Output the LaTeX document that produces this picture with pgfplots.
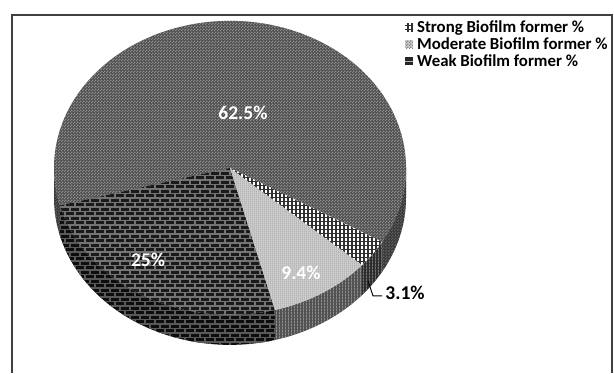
\documentclass[border=0pt]{standalone}
\usepackage{pgfplots}
\pgfplotsset{compat=1.18}
\usepackage{pgfplotstable}
\usepackage{fontspec}
\setmainfont{Carlito}
\usetikzlibrary{patterns}

% shares in percent, counter-clockwise from the start angle
\pgfplotstableread{
share
25.0
9.4
3.1
62.5
}\biofilm

% ---- textures ----
\pgfdeclarepatternformonly{brickwall}{\pgfqpoint{-1pt}{-1pt}}{\pgfqpoint{11pt}{10pt}}{\pgfqpoint{10pt}{9pt}}{%
  \pgfsetlinewidth{1.2pt}%
  \pgfpathmoveto{\pgfqpoint{-1pt}{0pt}}\pgfpathlineto{\pgfqpoint{11pt}{0pt}}%
  \pgfpathmoveto{\pgfqpoint{-1pt}{4.5pt}}\pgfpathlineto{\pgfqpoint{11pt}{4.5pt}}%
  \pgfpathmoveto{\pgfqpoint{0pt}{0pt}}\pgfpathlineto{\pgfqpoint{0pt}{4.5pt}}%
  \pgfpathmoveto{\pgfqpoint{5pt}{4.5pt}}\pgfpathlineto{\pgfqpoint{5pt}{9pt}}%
  \pgfusepath{stroke}}
\pgfdeclarepatternformonly{finechecker}{\pgfqpoint{0pt}{0pt}}{\pgfqpoint{2.6pt}{2.6pt}}{\pgfqpoint{2.6pt}{2.6pt}}{%
  \pgfpathrectangle{\pgfqpoint{0pt}{0pt}}{\pgfqpoint{1.3pt}{1.3pt}}%
  \pgfpathrectangle{\pgfqpoint{1.3pt}{1.3pt}}{\pgfqpoint{1.3pt}{1.3pt}}%
  \pgfusepath{fill}}
\pgfdeclarepatternformonly{opengrid}{\pgfqpoint{-1pt}{-1pt}}{\pgfqpoint{5pt}{5pt}}{\pgfqpoint{4pt}{4pt}}{%
  \pgfsetlinewidth{1.3pt}%
  \pgfpathmoveto{\pgfqpoint{-1pt}{0pt}}\pgfpathlineto{\pgfqpoint{5pt}{0pt}}%
  \pgfpathmoveto{\pgfqpoint{0pt}{-1pt}}\pgfpathlineto{\pgfqpoint{0pt}{5pt}}%
  \pgfusepath{stroke}}
\pgfdeclarepatternformonly{finevlines}{\pgfqpoint{0pt}{0pt}}{\pgfqpoint{2pt}{2pt}}{\pgfqpoint{2pt}{2pt}}{%
  \pgfpathrectangle{\pgfqpoint{0pt}{0pt}}{\pgfqpoint{0.8pt}{2pt}}%
  \pgfusepath{fill}}
\pgfdeclarepatternformonly{sidevlines}{\pgfqpoint{0pt}{0pt}}{\pgfqpoint{3pt}{3pt}}{\pgfqpoint{3pt}{3pt}}{%
  \pgfpathrectangle{\pgfqpoint{0pt}{0pt}}{\pgfqpoint{1.2pt}{3pt}}%
  \pgfusepath{fill}}

% ---- greys ----
\definecolor{strongbg}{HTML}{505050}
\definecolor{strongfg}{HTML}{8E8E8E}
\definecolor{weakbg}{HTML}{1A1A1A}
\definecolor{weakfg}{HTML}{747474}
\definecolor{modbg}{HTML}{CBCBCB}
\definecolor{modfg}{HTML}{A9A9A9}
\definecolor{gridfg}{HTML}{303030}
\definecolor{framecol}{HTML}{404040}

\tikzset{
  topA/.style={preaction={fill=weakbg}, pattern=brickwall, pattern color=weakfg},
  topB/.style={preaction={fill=modbg}, pattern=finevlines, pattern color=modfg},
  topC/.style={preaction={fill=white}, pattern=opengrid, pattern color=gridfg},
  topD/.style={preaction={fill=strongbg}, pattern=finechecker, pattern color=strongfg},
  sideA/.style={preaction={fill=black!95}, pattern=brickwall, pattern color=black!65},
  sideB/.style={preaction={fill=black!68}, pattern=sidevlines, pattern color=black!45},
  sideC/.style={preaction={fill=black!82}, pattern=sidevlines, pattern color=black!55},
  sideD/.style={preaction={fill=black!78}, pattern=finechecker, pattern color=black!62},
  lbl/.style={font=\fontsize{19.5}{22}\selectfont\bfseries},
  leg/.style={font=\fontsize{16.8}{19}\selectfont\bfseries, anchor=base west, inner sep=0pt},
}

% pie geometry (axis units = pt)
\def\cx{230}\def\cy{205}\def\rx{176}\def\ry{147}\def\dep{30}
\def\startang{194.8}

% top face of a slice
\newcommand\pietop[3]{%
  \pgfmathsetmacro\sx{\cx+\rx*cos(#1)}%
  \pgfmathsetmacro\sy{\cy+\ry*sin(#1)}%
  \edef\doit{\noexpand\fill[#3] (axis cs:\cx,\cy) -- (axis cs:\sx,\sy)
    arc[start angle=#1, end angle=#2, x radius=\rx pt, y radius=\ry pt] -- cycle;}%
  \doit}
% front wall of a slice
\newcommand\pieside[3]{%
  \pgfmathsetmacro\sx{\cx+\rx*cos(#1)}%
  \pgfmathsetmacro\sy{\cy+\ry*sin(#1)}%
  \edef\doit{\noexpand\fill[#3] (axis cs:\sx,\sy)
    arc[start angle=#1, end angle=#2, x radius=\rx pt, y radius=\ry pt]
    -- ++(0pt,-\dep pt)
    arc[start angle=#2, end angle=#1, x radius=\rx pt, y radius=\ry pt] -- cycle;}%
  \doit}

\begin{document}
\begin{tikzpicture}
\begin{axis}[
  scale only axis, width=614pt, height=365pt,
  xmin=0, xmax=614, ymin=0, ymax=365,
  hide axis, clip=false,
]
  % cumulative angles from the shares
  \pgfplotstablegetelem{0}{share}\of\biofilm \let\sA\pgfplotsretval
  \pgfplotstablegetelem{1}{share}\of\biofilm \let\sB\pgfplotsretval
  \pgfplotstablegetelem{2}{share}\of\biofilm \let\sC\pgfplotsretval
  \pgfplotstablegetelem{3}{share}\of\biofilm \let\sD\pgfplotsretval
  \pgfmathsetmacro\aA{\startang}
  \pgfmathsetmacro\aB{\aA+3.6*\sA}
  \pgfmathsetmacro\aC{\aB+3.6*\sB}
  \pgfmathsetmacro\aD{\aC+3.6*\sC}
  \pgfmathsetmacro\aE{\aD+3.6*\sD}

  \path (axis cs:0,0) rectangle (axis cs:614,365);

  % front walls (visible between 180 and 360 degrees)
  \pieside{180}{\aA}{sideD}
  \pieside{\aA}{\aB}{sideA}
  \pieside{\aB}{\aC}{sideB}
  \pieside{\aC}{\aD}{sideC}
  \pieside{\aD}{360}{sideD}

  % top faces
  \pietop{\aD}{\aE}{topD}
  \pietop{\aA}{\aB}{topA}
  \pietop{\aB}{\aC}{topB}
  \pietop{\aC}{\aD}{topC}

  % data labels
  \node[lbl, text=white] at (axis cs:243,260) {62.5\%};
  \node[lbl, text=white] at (axis cs:148,113) {25\%};
  \node[lbl, text=white] at (axis cs:301,100) {9.4\%};
  \node[lbl, text=black] at (axis cs:405,80.5) {3.1\%};
  \draw[black, line width=0.9pt] (axis cs:368,92) -- (axis cs:373,77) -- (axis cs:382,77);

  % legend
  \fill[topC] (axis cs:405,341.5) rectangle (axis cs:413,349.5);
  \fill[preaction={fill=modbg}, pattern=finechecker, pattern color=modfg!80!black] (axis cs:405,324.5) rectangle (axis cs:413,332.5);
  \fill[black!85] (axis cs:405,307.5) rectangle (axis cs:413,315.5);
  \draw[white!70!black, line width=0.8pt] (axis cs:405,311.5) -- (axis cs:413,311.5);
  \node[leg] at (axis cs:417,340) {Strong Biofilm former \%};
  \node[leg] at (axis cs:417,323) {Moderate Biofilm former \%};
  \node[leg] at (axis cs:417,306) {Weak Biofilm former \%};

  % chart frame (its lower edge lies below the picture)
  \draw[framecol, line width=1.3pt] (axis cs:12,0) -- (axis cs:12,358) -- (axis cs:612,358) -- (axis cs:612,0);
\end{axis}
\end{tikzpicture}
\end{document}
